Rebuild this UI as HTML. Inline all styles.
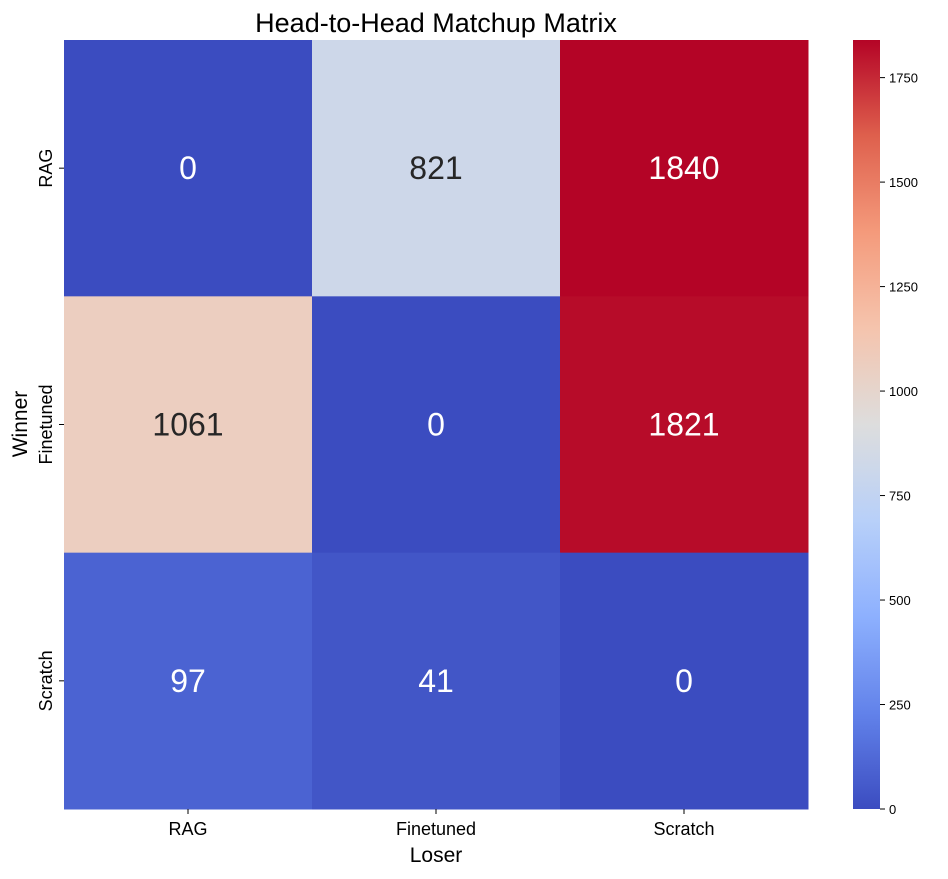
<!DOCTYPE html>
<html><head><meta charset="utf-8"><style>
body{margin:0;background:#fff;font-family:"Liberation Sans","DejaVu Sans",sans-serif;}
svg text{font-family:"Liberation Sans","DejaVu Sans",sans-serif;}
</style></head><body>
<svg id="chart" width="948" height="874" viewBox="0 0 948 874" xmlns="http://www.w3.org/2000/svg">
<defs><linearGradient id="cbgrad" x1="0" y1="1" x2="0" y2="0"></linearGradient></defs>
<text x="436" y="32" font-size="27" text-anchor="middle" fill="#000">Head-to-Head Matchup Matrix</text>
<g id="cells"></g>
<g id="xt"></g><g id="yt"></g>
<text x="436" y="862" font-size="21" text-anchor="middle">Loser</text>
<text transform="translate(27,424) rotate(-90)" font-size="21" text-anchor="middle">Winner</text>
<rect x="853" y="40" width="27" height="769" fill="url(#cbgrad)"/>
<g id="cbt"></g>
</svg>
<script>
const rowLabels=["RAG","Finetuned","Scratch"];
const colLabels=["RAG","Finetuned","Scratch"];
const values=[[0,821,1840],[1061,0,1821],[97,41,0]];
const cbTicks=[0,250,500,750,1000,1250,1500,1750];
const vmin=0, vmax=1840;
const X0=64,Y0=40,W=744,H=769;
const anchors=[[59,76,192],[98,130,234],[141,176,254],[184,208,249],[221,221,221],[245,196,173],[244,154,123],[222,96,77],[180,4,38]];
function cmap(t){t=Math.max(0,Math.min(1,t));const p=t*8,i=Math.min(7,Math.floor(p)),f=p-i;const a=anchors[i],b=anchors[i+1];return `rgb(${a.map((v,k)=>Math.round(v+(b[k]-v)*f)).join(',')})`;}
function norm(v){return (v-vmin)/(vmax-vmin);}
const ns="http://www.w3.org/2000/svg";
function mk(tag,attrs,parent){const e=document.createElementNS(ns,tag);for(const k in attrs)e.setAttribute(k,attrs[k]);parent.appendChild(e);return e;}
const cw=W/colLabels.length,ch=H/rowLabels.length;
const cells=document.getElementById('cells');
values.forEach((row,r)=>row.forEach((v,c)=>{
  const t=norm(v);
  const rect=mk('rect',{x:X0+c*cw,y:Y0+r*ch,width:cw+0.5,height:ch+0.5,fill:cmap(t)},cells);
  
  
  const tx=mk('text',{x:X0+c*cw+cw/2,y:Y0+r*ch+ch/2+11,'font-size':32,'text-anchor':'middle',fill:(t<0.25||t>0.8)?'#fff':'#262626'},cells);
  tx.textContent=v;
  
  
}));
const xt=document.getElementById('xt');
colLabels.forEach((l,i)=>{const x=X0+i*cw+cw/2;
  const ln=mk('line',{x1:x,x2:x,y1:Y0+H,y2:Y0+H+5,stroke:'#000'},xt);
  
  
  const t=mk('text',{x:x,y:Y0+H+26,'font-size':18,'text-anchor':'middle'},xt);t.textContent=l;
  
  });
const yt=document.getElementById('yt');
rowLabels.forEach((l,i)=>{const y=Y0+i*ch+ch/2;
  const ln=mk('line',{x1:X0-5,x2:X0,y1:y,y2:y,stroke:'#000'},yt);
  
  
  const t=mk('text',{transform:`translate(${X0-12},${y}) rotate(-90)`,'font-size':18,'text-anchor':'middle'},yt);t.textContent=l;
  
  });
const g=document.getElementById('cbgrad');
for(let i=0;i<=32;i++){mk('stop',{offset:(i/32),'stop-color':cmap(i/32)},g);}
const cbt=document.getElementById('cbt');
cbTicks.forEach(v=>{const y=Y0+H-norm(v)*H;
  const ln=mk('line',{x1:880,x2:885,y1:y,y2:y,stroke:'#000'},cbt);
  
  
  const t=mk('text',{x:889,y:y+5,'font-size':13},cbt);t.textContent=v;
  
  });
</script>
</body></html>
